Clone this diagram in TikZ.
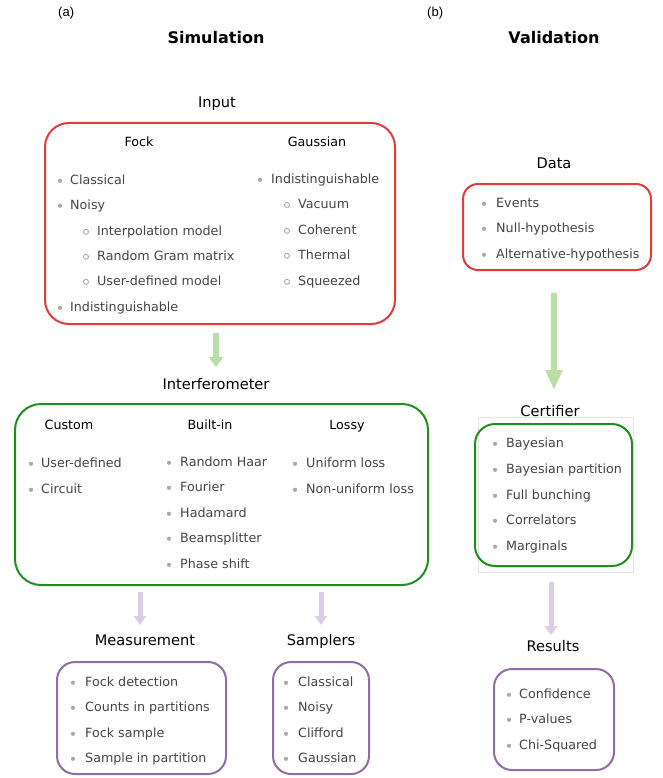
\documentclass[tikz,border=0pt]{standalone}
\usepackage{fontspec}
\setmainfont{DejaVu Sans}
\newfontfamily\labfont{Liberation Sans}
\usetikzlibrary{arrows.meta}
\definecolor{txt}{HTML}{444444}
\definecolor{bul}{HTML}{ABABAB}
\definecolor{rbox}{HTML}{E23B3B}
\definecolor{gbox}{HTML}{1E8F1E}
\definecolor{pbox}{HTML}{8F6EA3}
\definecolor{garrow}{HTML}{B9DEA6}
\definecolor{parrow}{HTML}{DCCCE6}
\definecolor{frame}{HTML}{E4E4E4}
\newcommand{\blist}[5]{%
  \foreach \yv/\lbl [count=\i] in {#5}{%
    \node[#1] (#2b\i) at (#3,\yv+0.8) {};
    \node[itm] (#2\i) at (#4,\yv+4.6) {\lbl};
  }}
\begin{document}
\begin{tikzpicture}[x=1pt,y=-1pt,
  itm/.style={anchor=base west, inner sep=0pt, font=\fontsize{12.7pt}{14pt}\selectfont, text=txt},
  hdr/.style={anchor=base, inner sep=0pt, font=\fontsize{12.7pt}{14pt}\selectfont, text=black},
  sec/.style={anchor=base, inner sep=0pt, font=\fontsize{14.6pt}{17pt}\selectfont, text=black},
  ttl/.style={anchor=base, inner sep=0pt, font=\fontsize{16pt}{19pt}\selectfont\bfseries, text=black},
  pan/.style={anchor=base west, inner sep=0pt, font=\labfont\fontsize{13pt}{15pt}\selectfont, text=black},
  dot/.style={circle, fill=bul, inner sep=0pt, minimum size=4.2pt},
  odot/.style={circle, draw=bul, line width=0.9pt, inner sep=0pt, minimum size=5pt},
  box/.style 2 args={draw=#1, line width=2pt, rounded corners=#2, inner sep=0pt},
  garr/.style={draw=garrow, line width=5.5pt, -{Triangle[width=#1, length=10pt]}},
  parr/.style={draw=parrow, line width=5pt, -{Triangle[width=#1, length=9pt]}}
]
\useasboundingbox (0,0) rectangle (663,778);

% panel labels and titles
\node[pan] (pa) at (58,17) {(a)};
\node[pan] (pb) at (427,17) {(b)};
\node[ttl] (tsim) at (216,44) {Simulation};
\node[ttl] (tval) at (554,44) {Validation};

% ---------------- Input ----------------
\node[sec] (linput) at (217,108) {Input};
\node[box={rbox}{24pt}, minimum width=350pt, minimum height=201pt] (inputbox) at (220,223.5) {};
\node[hdr] (hfock) at (139,146.5) {Fock};
\node[hdr] (hgauss) at (317,146.5) {Gaussian};
\blist{dot}{fa}{60}{70}{180/Classical,205/Noisy}
\blist{odot}{fs}{86}{97}{231/Interpolation model,256/Random Gram matrix,281/User-defined model}
\blist{dot}{fc}{60}{70}{307/Indistinguishable}
\blist{dot}{ga}{260}{271}{179/Indistinguishable}
\blist{odot}{gs}{287}{298}{204/Vacuum,230/Coherent,255/Thermal,281/Squeezed}

\coordinate (a1s) at (216,333);
\coordinate (a1e) at (216,367);
\draw[garr=14pt] (a1s) -- (a1e);

% ---------------- Interferometer ----------------
\node[sec] (linter) at (216,389) {Interferometer};
\node[box={gbox}{26pt}, minimum width=413pt, minimum height=181pt] (interbox) at (221.5,494.5) {};
\node[hdr] (hcust) at (69,429.5) {Custom};
\node[hdr] (hbuilt) at (210,429.5) {Built-in};
\node[hdr] (hlossy) at (347,429.5) {Lossy};
\blist{dot}{cu}{31}{41}{463/User-defined,489/Circuit}
\blist{dot}{bi}{169}{180}{462/Random Haar,487/Fourier,513/Hadamard,538/Beamsplitter,564/Phase shift}
\blist{dot}{lo}{295}{306}{463/Uniform loss,489/Non-uniform loss}

\coordinate (a2s) at (140,592);
\coordinate (a2e) at (140,625);
\draw[parr=12pt] (a2s) -- (a2e);
\coordinate (a3s) at (321,592);
\coordinate (a3e) at (321,625);
\draw[parr=12pt] (a3s) -- (a3e);

% ---------------- Measurement / Samplers ----------------
\node[sec] (lmeas) at (145,645) {Measurement};
\node[sec] (lsamp) at (321,645) {Samplers};
\node[box={pbox}{18pt}, minimum width=169pt, minimum height=112pt] (measbox) at (141.5,718) {};
\node[box={pbox}{18pt}, minimum width=96pt, minimum height=112pt] (sampbox) at (321,718) {};
\blist{dot}{me}{73}{85}{682/Fock detection,707/Counts in partitions,733/Fock sample,758/Sample in partition}
\blist{dot}{sa}{286}{298}{682/Classical,707/Noisy,733/Clifford,758/Gaussian}

% ---------------- Validation ----------------
\node[sec] (ldata) at (554,168) {Data};
\node[box={rbox}{15pt}, minimum width=188pt, minimum height=86pt] (databox) at (557,227) {};
\blist{dot}{da}{484}{496}{203/Events,228/Null-hypothesis,254/Alternative-hypothesis}

\coordinate (a4s) at (554,293);
\coordinate (a4e) at (554,390);
\draw[draw=garrow, line width=5.5pt, -{Triangle[width=16pt, length=20pt]}] (a4s) -- (a4e);

\node[sec] (lcert) at (550,416) {Certifier};
\node[draw=frame, line width=0.6pt, inner sep=0pt, minimum width=155pt, minimum height=155pt] (certframe) at (555.5,494.5) {};
\node[box={gbox}{20pt}, minimum width=157pt, minimum height=142pt] (certbox) at (553.5,495) {};
\blist{dot}{ce}{495}{506}{443/Bayesian,469/Bayesian partition,495/Full bunching,520/Correlators,546/Marginals}

\coordinate (a5s) at (551,582);
\coordinate (a5e) at (551,635);
\draw[parr=13pt] (a5s) -- (a5e);

\node[sec] (lres) at (553,651) {Results};
\node[box={pbox}{18pt}, minimum width=120pt, minimum height=101pt] (resbox) at (554,719.5) {};
\blist{dot}{re}{509}{519}{694/Confidence,719/P-values,745/Chi-Squared}
\end{tikzpicture}
\end{document}
